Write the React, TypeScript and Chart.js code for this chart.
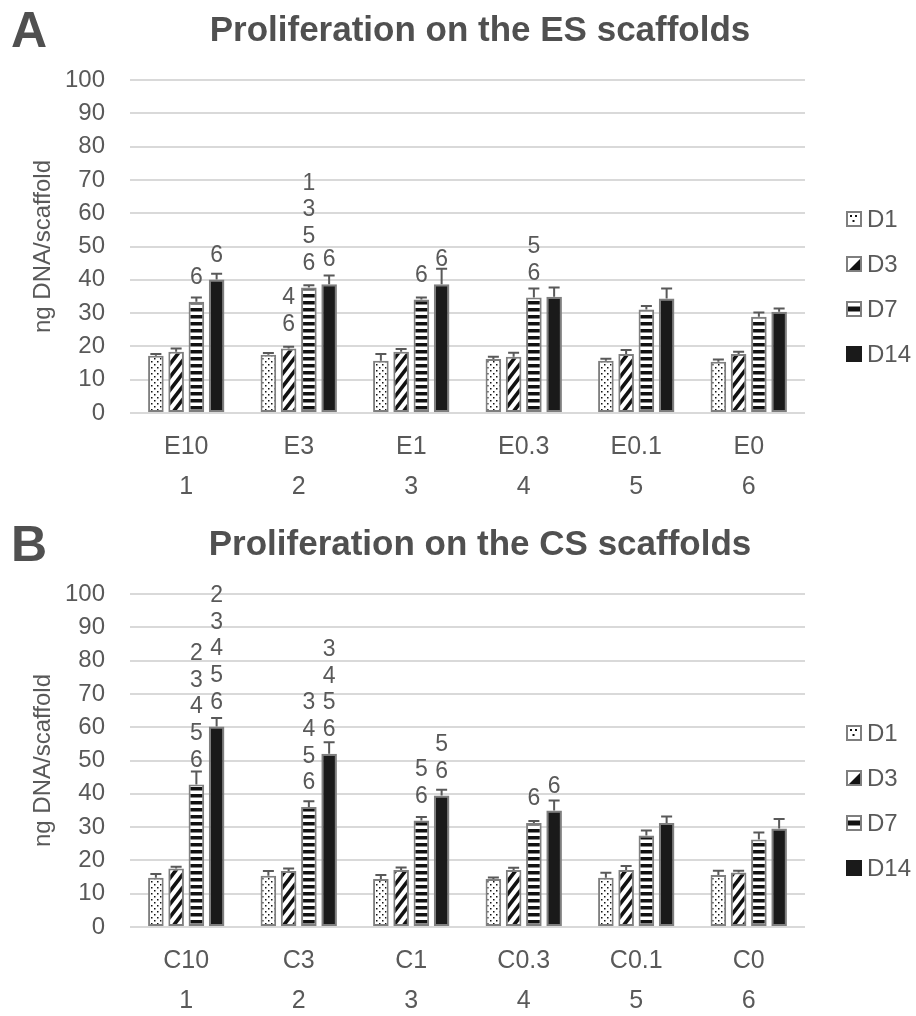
import React, { useEffect, useRef } from 'react';
import { Chart, registerables } from 'chart.js';

Chart.register(...registerables);

const SERIES_NAMES = ['D1', 'D3', 'D7', 'D14'];
const GROUP_NUMBERS = ['1', '2', '3', '4', '5', '6'];
const Y_MIN = 0;
const Y_MAX = 100;
const Y_STEP = 10;

// ---- Panel A: ES scaffolds ----
const ES_CATEGORIES = ['E10', 'E3', 'E1', 'E0.3', 'E0.1', 'E0'];
const ES_D1 = [17.2, 17.5, 15.7, 16.2, 15.7, 15.4];
const ES_D3 = [18.4, 19.4, 18.4, 16.9, 17.7, 17.7];
const ES_D7 = [33.4, 37.7, 34.1, 34.7, 31.1, 28.9];
const ES_D14 = [40.1, 38.7, 38.7, 34.9, 34.4, 30.4];
const ES_D1_ERR = [0.5, 0.5, 2.0, 0.7, 0.6, 0.7];
const ES_D3_ERR = [1.0, 0.5, 0.8, 1.2, 1.2, 0.7];
const ES_D7_ERR = [1.3, 0.7, 0.6, 2.7, 1.0, 1.3];
const ES_D14_ERR = [1.7, 2.6, 4.6, 2.8, 3.0, 1.0];
const ES_D1_SIG: string[][] = [[], [], [], [], [], []];
const ES_D3_SIG: string[][] = [[], ['4', '6'], [], [], [], []];
const ES_D7_SIG: string[][] = [['6'], ['1', '3', '5', '6'], ['6'], ['5', '6'], [], []];
const ES_D14_SIG: string[][] = [['6'], ['6'], ['6'], [], [], []];

// ---- Panel B: CS scaffolds ----
const CS_CATEGORIES = ['C10', 'C3', 'C1', 'C0.3', 'C0.1', 'C0'];
const CS_D1 = [14.8, 15.4, 14.4, 14.4, 14.8, 15.6];
const CS_D3 = [17.6, 16.8, 17.1, 17.1, 17.1, 16.4];
const CS_D7 = [42.8, 36.0, 32.0, 31.2, 27.5, 26.3];
const CS_D14 = [60.2, 52.0, 39.5, 35.0, 31.2, 29.6];
const CS_D1_ERR = [1.1, 1.4, 1.2, 0.5, 1.5, 1.3];
const CS_D3_ERR = [0.5, 0.8, 0.8, 0.7, 1.2, 0.5];
const CS_D7_ERR = [3.9, 1.8, 1.0, 0.6, 1.5, 2.1];
const CS_D14_ERR = [2.6, 3.5, 1.7, 3.0, 2.0, 2.8];
const CS_D1_SIG: string[][] = [[], [], [], [], [], []];
const CS_D3_SIG: string[][] = [[], [], [], [], [], []];
const CS_D7_SIG: string[][] = [['2', '3', '4', '5', '6'], ['3', '4', '5', '6'], ['5', '6'], ['6'], [], []];
const CS_D14_SIG: string[][] = [['2', '3', '4', '5', '6'], ['3', '4', '5', '6'], ['5', '6'], ['6'], [], []];

const FONT = "'Liberation Sans', Arial, Helvetica, sans-serif";
const TEXT = '#595959';
const GRID = '#d9d9d9';
const BORDER = '#7f7f7f';
const DARK = '#1a1a1a';

function makePatterns() {
  const dots = document.createElement('canvas');
  dots.width = 6;
  dots.height = 6;
  let c = dots.getContext('2d')!;
  c.fillStyle = '#fff';
  c.fillRect(0, 0, 6, 6);
  c.fillStyle = '#111';
  c.fillRect(1, 1, 1.5, 1.5);
  c.fillRect(4, 4, 1.5, 1.5);

  const diag = document.createElement('canvas');
  const w = 10, h = 13;
  diag.width = w;
  diag.height = h;
  c = diag.getContext('2d')!;
  c.fillStyle = '#fff';
  c.fillRect(0, 0, w, h);
  c.strokeStyle = '#111';
  c.lineWidth = 3.6;
  for (const off of [-w, 0, w]) {
    c.beginPath();
    c.moveTo(off - w, 2 * h);
    c.lineTo(off + 2 * w, -h);
    c.stroke();
  }

  const hs = document.createElement('canvas');
  hs.width = 4;
  hs.height = 7;
  c = hs.getContext('2d')!;
  c.fillStyle = '#fff';
  c.fillRect(0, 0, 4, 7);
  c.fillStyle = '#111';
  c.fillRect(0, 0, 4, 3.5);

  const ctx = document.createElement('canvas').getContext('2d')!;
  return {
    dots: ctx.createPattern(dots, 'repeat')!,
    diag: ctx.createPattern(diag, 'repeat')!,
    hs: ctx.createPattern(hs, 'repeat')!,
  };
}

type PanelProps = {
  letter: string;
  title: string;
  categories: string[];
  values: number[][];
  errors: number[][];
  sig: string[][][];
};

function drawLegendIcon(ctx: CanvasRenderingContext2D, k: number, x: number, y: number, s: number) {
  ctx.save();
  ctx.fillStyle = k === 3 ? DARK : '#fff';
  ctx.fillRect(x, y, s, s);
  ctx.fillStyle = '#111';
  if (k === 0) {
    ctx.fillRect(x + 4, y + 4, 2, 2);
    ctx.fillRect(x + 9, y + 4, 2, 2);
    ctx.fillRect(x + 6.5, y + 9, 2, 2);
  } else if (k === 1) {
    ctx.beginPath();
    ctx.moveTo(x + s - 2, y + 3);
    ctx.lineTo(x + s - 2, y + s - 2);
    ctx.lineTo(x + 3, y + s - 2);
    ctx.closePath();
    ctx.fill();
  } else if (k === 2) {
    ctx.fillRect(x + 2, y + s / 2 - 2.5, s - 4, 5);
  }
  ctx.strokeStyle = BORDER;
  ctx.lineWidth = 2;
  if (k !== 3) ctx.strokeRect(x + 1, y + 1, s - 2, s - 2);
  ctx.restore();
}

function Panel({ letter, title, categories, values, errors, sig }: PanelProps) {
  const ref = useRef<HTMLCanvasElement>(null);

  useEffect(() => {
    const canvas = ref.current!;
    const pats = makePatterns();
    const fills: any[] = [pats.dots, pats.diag, pats.hs, DARK];

    const decor = {
      id: 'decor',
      afterDatasetsDraw(chart: any) {
        const ctx: CanvasRenderingContext2D = chart.ctx;
        const yScale = chart.scales.y;
        ctx.save();
        // error bars
        ctx.strokeStyle = TEXT;
        ctx.lineWidth = 2;
        for (let k = 0; k < values.length; k++) {
          const meta = chart.getDatasetMeta(k);
          meta.data.forEach((bar: any, i: number) => {
            const x = bar.x;
            const yTop = bar.y;
            const yCap = yScale.getPixelForValue(values[k][i] + errors[k][i]);
            ctx.beginPath();
            ctx.moveTo(x, yTop);
            ctx.lineTo(x, yCap);
            ctx.moveTo(x - 5.5, yCap);
            ctx.lineTo(x + 5.5, yCap);
            ctx.stroke();
          });
        }
        // significance labels
        ctx.fillStyle = TEXT;
        ctx.font = `23px ${FONT}`;
        ctx.textAlign = 'center';
        ctx.textBaseline = 'middle';
        for (let k = 0; k < values.length; k++) {
          const meta = chart.getDatasetMeta(k);
          meta.data.forEach((bar: any, i: number) => {
            const lines = sig[k][i];
            const n = lines.length;
            lines.forEach((t, j) => {
              ctx.fillText(t, bar.x, bar.y - 24 - (n - 1 - j) * 26.7);
            });
          });
        }
        ctx.restore();
      },
      afterDraw(chart: any) {
        const ctx: CanvasRenderingContext2D = chart.ctx;
        const area = chart.chartArea;
        const y0 = chart.scales.y.getPixelForValue(0);
        ctx.save();
        // panel letter
        ctx.fillStyle = '#505050';
        ctx.font = `bold 50px ${FONT}`;
        ctx.textAlign = 'left';
        ctx.textBaseline = 'middle';
        ctx.fillText(letter, 11, 33);
        // title
        ctx.font = `bold 35px ${FONT}`;
        ctx.textAlign = 'center';
        ctx.fillText(title, chart.width / 2 + 22, 31);
        // legend
        ctx.font = `24px ${FONT}`;
        ctx.textAlign = 'left';
        ctx.fillStyle = TEXT;
        for (let k = 0; k < SERIES_NAMES.length; k++) {
          const cy = y0 - 59 - (SERIES_NAMES.length - 1 - k) * 45;
          drawLegendIcon(ctx, k, area.right + 41, cy - 8, 16);
          ctx.fillText(SERIES_NAMES[k], area.right + 62, cy + 1);
        }
        ctx.restore();
      },
    };

    const chart = new Chart(canvas, {
      type: 'bar',
      data: {
        labels: categories.map((c, i) => [c, GROUP_NUMBERS[i]]),
        datasets: SERIES_NAMES.map((name, k) => ({
          label: name,
          data: values[k],
          backgroundColor: fills[k],
          borderColor: BORDER,
          borderWidth: 2,
          borderSkipped: false,
          categoryPercentage: 0.72,
          barPercentage: 0.77,
        })),
      },
      options: {
        responsive: false,
        animation: false,
        devicePixelRatio: 1,
        events: [],
        layout: { padding: { top: 80, right: 111, bottom: 0, left: 0 } },
        plugins: {
          legend: { display: false },
          title: { display: false },
          tooltip: { enabled: false },
        },
        scales: {
          x: {
            grid: { display: false, drawTicks: false },
            border: { display: false },
            ticks: {
              color: TEXT,
              font: { family: FONT, size: 25, lineHeight: 1.6 },
              padding: 14,
              maxRotation: 0,
              autoSkip: false,
            },
            afterFit: (s: any) => {
              s.height = 89;
            },
          },
          y: {
            min: Y_MIN,
            max: Y_MAX,
            grid: { color: GRID, lineWidth: 2, drawTicks: false },
            border: { display: false },
            ticks: {
              stepSize: Y_STEP,
              color: TEXT,
              font: { family: FONT, size: 24 },
              padding: 25,
            },
            title: {
              display: true,
              text: 'ng DNA/scaffold',
              color: TEXT,
              font: { family: FONT, size: 24, lineHeight: 1.2 },
              padding: { top: 29, bottom: 0 },
            },
            afterFit: (s: any) => {
              s.width = 130;
            },
          },
        },
      },
      plugins: [decor],
    } as any);

    return () => chart.destroy();
  }, []);

  return <canvas ref={ref} width={916} height={502} style={{ display: 'block' }} />;
}

export default function App() {
  return (
    <div style={{ position: 'absolute', left: 0, top: 0, width: 916, height: 1016, background: '#fff', overflow: 'hidden' }}>
      <div style={{ position: 'absolute', left: 0, top: 0 }}>
        <Panel
          letter="A"
          title="Proliferation on the ES scaffolds"
          categories={ES_CATEGORIES}
          values={[ES_D1, ES_D3, ES_D7, ES_D14]}
          errors={[ES_D1_ERR, ES_D3_ERR, ES_D7_ERR, ES_D14_ERR]}
          sig={[ES_D1_SIG, ES_D3_SIG, ES_D7_SIG, ES_D14_SIG]}
        />
      </div>
      <div style={{ position: 'absolute', left: 0, top: 514 }}>
        <Panel
          letter="B"
          title="Proliferation on the CS scaffolds"
          categories={CS_CATEGORIES}
          values={[CS_D1, CS_D3, CS_D7, CS_D14]}
          errors={[CS_D1_ERR, CS_D3_ERR, CS_D7_ERR, CS_D14_ERR]}
          sig={[CS_D1_SIG, CS_D3_SIG, CS_D7_SIG, CS_D14_SIG]}
        />
      </div>
    </div>
  );
}
